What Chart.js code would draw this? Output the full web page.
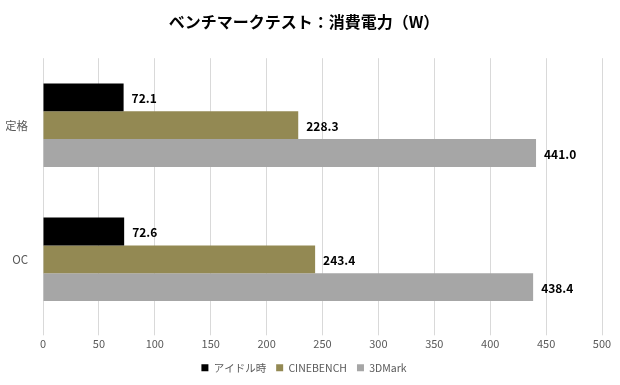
<!DOCTYPE html>
<html>
<head>
<meta charset="utf-8">
<script src="https://cdn.jsdelivr.net/npm/chart.js@4"></script>
<style>
  html, body { margin: 0; padding: 0; background: #fff; }
  #wrap { width: 620px; height: 385px; }
</style>
</head>
<body>
<div id="wrap"><canvas id="chart"></canvas></div>
<script>
const categories = ['定格', 'OC'];
const seriesNames = ['アイドル時', 'CINEBENCH', '3DMark'];
const idleValues = [72.1, 72.6];
const cinebenchValues = [228.3, 243.4];
const dmarkValues = [441.0, 438.4];
const xTicks = [0, 50, 100, 150, 200, 250, 300, 350, 400, 450, 500];

const font = '"Noto Sans CJK JP", "Noto Sans", sans-serif';

// draws the value next to the end of each bar
const valueLabels = {
    id: 'valueLabels',
    afterDatasetsDraw(chart) {
        const ctx = chart.ctx;
        ctx.save();
        ctx.font = 'bold 12px ' + font;
        ctx.fillStyle = '#000';
        ctx.textBaseline = 'middle';
        chart.data.datasets.forEach((ds, i) => {
            chart.getDatasetMeta(i).data.forEach((bar, j) => {
                ctx.fillText(ds.data[j].toFixed(1), bar.x + 8, bar.y + 1);
            });
        });
        ctx.restore();
    }
};

const ctx = document.getElementById('chart').getContext('2d');
new Chart(ctx, {
    type: 'bar',
    data: {
        labels: categories,
        datasets: [
            { label: seriesNames[0], data: idleValues, backgroundColor: '#000000' },
            { label: seriesNames[1], data: cinebenchValues, backgroundColor: '#938953' },
            { label: seriesNames[2], data: dmarkValues, backgroundColor: '#a6a6a6' }
        ]
    },
    options: {
        indexAxis: 'y',
        responsive: true,
        maintainAspectRatio: false,
        animation: false,
        layout: { padding: { left: 6, right: 18, top: 10, bottom: 2 } },
        datasets: {
            bar: { categoryPercentage: 0.622, barPercentage: 1.0 }
        },
        plugins: {
            title: {
                display: true,
                text: 'ベンチマークテスト：消費電力（W）',
                color: '#000',
                font: { family: font, size: 16, weight: 'bold' },
                padding: { top: 2, bottom: 27 }
            },
            legend: {
                position: 'bottom',
                labels: {
                    boxWidth: 7,
                    boxHeight: 7,
                    padding: 10,
                    color: '#595959',
                    font: { family: font, size: 10.5 }
                }
            },
            tooltip: { enabled: false }
        },
        scales: {
            x: {
                min: 0,
                max: 500,
                afterBuildTicks(scale) {
                    scale.ticks = xTicks.map(v => ({ value: v }));
                },
                grid: { color: '#d9d9d9', drawTicks: true, tickLength: 9 },
                border: { display: false },
                ticks: {
                    color: '#595959',
                    padding: 2,
                    font: { family: font, size: 11 }
                }
            },
            y: {
                grid: { display: false },
                border: { display: false },
                afterFit(scale) { scale.width = 37; },
                ticks: {
                    color: '#595959',
                    padding: 7,
                    font: { family: font, size: 11.5 }
                }
            }
        }
    },
    plugins: [valueLabels]
});
</script>
</body>
</html>
